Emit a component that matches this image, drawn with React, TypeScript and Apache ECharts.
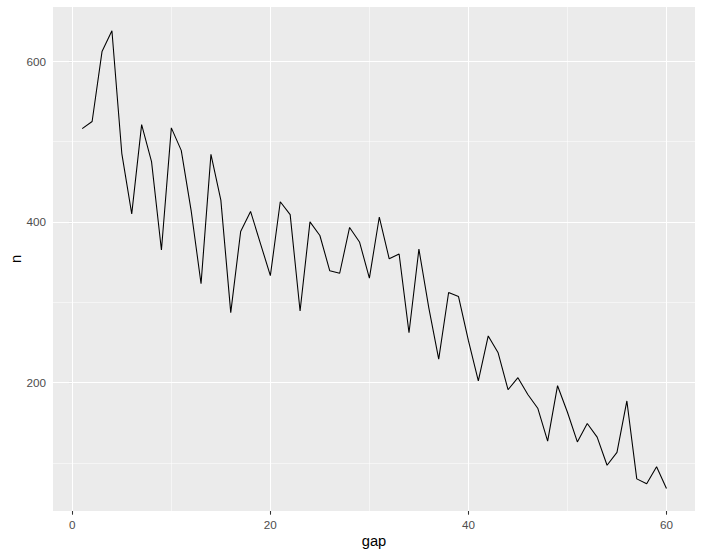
import React, { useEffect, useRef } from "react";
import * as echarts from "echarts";

const gap = Array.from({ length: 60 }, (_, i) => i + 1);
const nValues = [
  516, 525, 612, 638, 485, 410, 521, 475, 365, 517,
  489, 414, 323, 484, 427, 287, 388, 413, 373, 333,
  425, 409, 289, 400, 383, 339, 336, 393, 375, 330,
  406, 354, 360, 262, 366, 293, 229, 312, 307, 252,
  202, 258, 237, 191, 206, 185, 168, 127, 196, 163,
  126, 149, 132, 97, 113, 177, 80, 74, 95, 68,
];
const xMajor = [0, 20, 40, 60];
const xMinor = [10, 30, 50];
const yMajor = [200, 400, 600];
const yMinor = [100, 300, 500];

export default function App() {
  const ref = useRef<HTMLDivElement>(null);
  useEffect(() => {
    if (!ref.current) return;
    const chart = echarts.init(ref.current, null, { renderer: "svg" });
    const font = "Liberation Sans, Arial, sans-serif";
    const gridLines: any[] = [
      ...xMinor.map((v) => ({ xAxis: v, lineStyle: { width: 0.53 } })),
      ...yMinor.map((v) => ({ yAxis: v, lineStyle: { width: 0.53 } })),
      ...xMajor.map((v) => ({ xAxis: v, lineStyle: { width: 1.07 } })),
      ...yMajor.map((v) => ({ yAxis: v, lineStyle: { width: 1.07 } })),
    ];
    chart.setOption({
      animation: false,
      backgroundColor: "#FFFFFF",
      grid: {
        left: 53,
        right: 8,
        top: 7,
        bottom: 45,
        show: true,
        backgroundColor: "#EBEBEB",
        borderWidth: 0,
        containLabel: false,
        outerBoundsMode: "none",
      },
      xAxis: {
        type: "value",
        min: -1.95,
        max: 62.88,
        name: "gap",
        nameLocation: "middle",
        nameGap: 22,
        nameMoveOverlap: false,
        nameTextStyle: { color: "#000000", fontSize: 14.7, fontFamily: font },
        axisLine: { show: false },
        splitLine: { show: false },
        axisTick: {
          show: true,
          length: 3.7,
          customValues: xMajor,
          lineStyle: { color: "#333333", width: 1.07 },
        },
        axisLabel: {
          customValues: xMajor,
          color: "#4D4D4D",
          fontSize: 11.7,
          fontFamily: font,
          margin: 7,
        },
      },
      yAxis: {
        type: "value",
        min: 40,
        max: 667.5,
        name: "n",
        nameLocation: "middle",
        nameGap: 30,
        nameRotate: 90,
        nameMoveOverlap: false,
        nameTextStyle: { color: "#000000", fontSize: 14.7, fontFamily: font },
        axisLine: { show: false },
        splitLine: { show: false },
        axisTick: {
          show: true,
          length: 3.7,
          customValues: yMajor,
          lineStyle: { color: "#333333", width: 1.07 },
        },
        axisLabel: {
          customValues: yMajor,
          color: "#4D4D4D",
          fontSize: 11.7,
          fontFamily: font,
          margin: 7,
        },
      },
      series: [
        {
          type: "line",
          data: [],
          z: 1,
          silent: true,
          markLine: {
            silent: true,
            z: 1,
            symbol: "none",
            animation: false,
            label: { show: false },
            lineStyle: { color: "#FFFFFF", type: "solid" },
            emphasis: { disabled: true },
            data: gridLines,
          },
        },
        {
          type: "line",
          z: 10,
          data: gap.map((g, i) => [g, nValues[i]]),
          showSymbol: false,
          symbol: "none",
          lineStyle: { color: "#000000", width: 1.07 },
          silent: true,
        },
      ],
    });
    return () => chart.dispose();
  }, []);
  return (
    <div
      ref={ref}
      style={{ position: "fixed", left: 0, top: 0, width: 703, height: 556 }}
    />
  );
}
